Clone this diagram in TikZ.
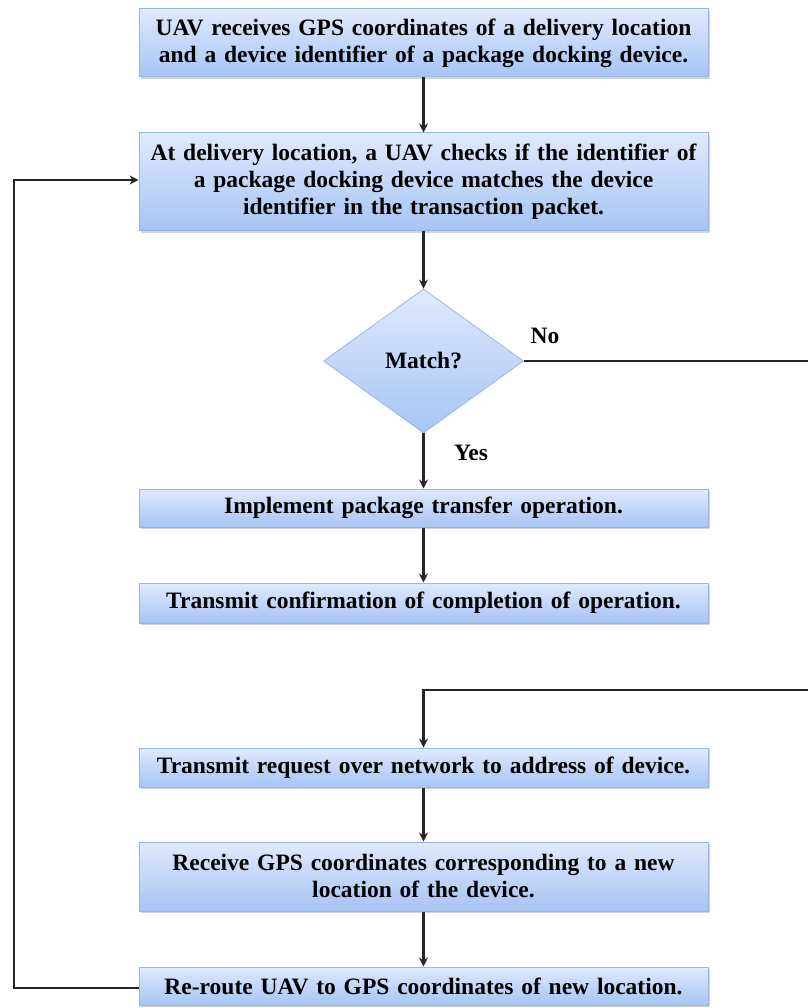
\documentclass[tikz,border=0pt]{standalone}
\usepackage{fontspec}
\setmainfont{Liberation Serif}
\usetikzlibrary{shapes.geometric,arrows.meta,shadows}
\definecolor{boxtop}{RGB}{224,234,252}
\definecolor{boxbot}{RGB}{166,196,244}
\definecolor{boxline}{RGB}{150,182,232}
\begin{document}
\begin{tikzpicture}[x=1pt,y=-1pt,
  stepbox/.style={draw=boxline, line width=1pt, top color=boxtop, bottom color=boxbot,
    minimum width=569pt, text width=565pt, align=center, inner sep=0pt,
    font=\fontsize{23.5}{27}\selectfont\bfseries,
    drop shadow={shadow xshift=1.5pt, shadow yshift=-2pt, opacity=0.35, fill=black!50}},
  decision/.style={diamond, draw=boxline, line width=0.8pt, top color=boxtop, bottom color=boxbot,
    minimum width=200pt, minimum height=144pt, aspect=1.39, inner sep=0pt,
    font=\fontsize{23.5}{27}\selectfont\bfseries},
  conn/.style={line width=2.8pt, black!85, -{Stealth[length=9pt,width=9pt]}},
  plain/.style={line width=2.8pt, black!85},
  lbl/.style={font=\fontsize{23.5}{27}\selectfont\bfseries}
]
\useasboundingbox (0,0) rectangle (808,1008);
\node[stepbox, minimum height=68pt] (b1) at (423.5,43) {UAV receives GPS coordinates of a delivery location\\and a device identifier of a package docking device.};
\node[stepbox, minimum height=98pt] (b2) at (423.5,182) {At delivery location, a UAV checks if the identifier of\\a package docking device matches the device\\identifier in the transaction packet.};
\node[decision] (d) at (423.5,361) {Match?};
\node[stepbox, minimum height=38pt] (b3) at (423.5,508) {Implement package transfer operation.};
\node[stepbox, minimum height=40pt] (b4) at (423.5,603) {Transmit confirmation of completion of operation.};
\node[stepbox, minimum height=39pt] (b5) at (423.5,767.5) {Transmit request over network to address of device.};
\node[stepbox, minimum height=69pt] (b6) at (423.5,876.5) {Receive GPS coordinates corresponding to a new\\location of the device.};
\node[stepbox, minimum height=38pt] (b7) at (423.5,986) {Re-route UAV to GPS coordinates of new location.};

\coordinate (noend) at (808,361);
\coordinate (retstart) at (808,690);
\coordinate (retbend) at (423.5,690);
\coordinate (loopbot) at (14,988);
\coordinate (looptop) at (14,180);

\draw[conn] (b1) -- (b2);
\draw[conn] (b2) -- (d);
\draw[conn] (d) -- (b3);
\draw[conn] (b3) -- (b4);
\draw[plain] (d.east) -- (noend);
\draw[conn] (retstart) -- (retbend) -- (b5);
\draw[conn] (b5) -- (b6);
\draw[conn] (b6) -- (b7);
\draw[conn] (b7.west |- loopbot) -- (loopbot) -- (looptop) -- (b2.west |- looptop);

\node[lbl] (no) at (545,336) {No};
\node[lbl] (yes) at (471,453) {Yes};
\end{tikzpicture}
\end{document}
